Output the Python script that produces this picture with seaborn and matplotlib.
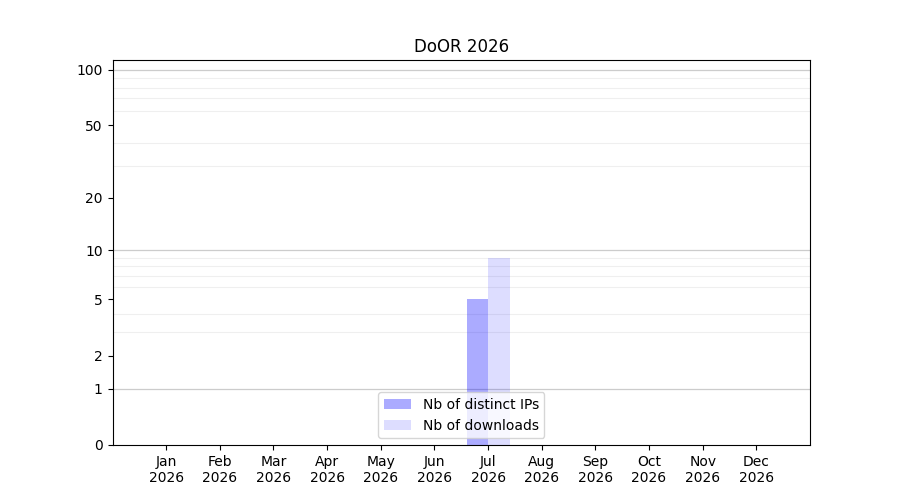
import numpy as np
import pandas as pd
import matplotlib
matplotlib.use("Agg")
import matplotlib.pyplot as plt
import seaborn as sns

# -------------------------------------
# Data
# -------------------------------------
months = ["Jan", "Feb", "Mar", "Apr", "May", "Jun",
          "Jul", "Aug", "Sep", "Oct", "Nov", "Dec"]
year = "2026"
distinct_ips = [0, 0, 0, 0, 0, 0, 5, 0, 0, 0, 0, 0]
downloads = [0, 0, 0, 0, 0, 0, 9, 0, 0, 0, 0, 0]

series_names = ["Nb of distinct IPs", "Nb of downloads"]
series_alphas = [0.33, 0.135]

y_ticks = [0, 1, 2, 5, 10, 20, 50, 100]
y_major_grid = [1, 10, 100]
y_minor_grid = [2, 3, 4, 5, 6, 7, 8, 9, 20, 30, 40, 50, 60, 70, 80, 90]

df = pd.DataFrame({
    "month": list(range(len(months))) * 2,
    "value": distinct_ips + downloads,
    "series": [series_names[0]] * len(months) + [series_names[1]] * len(months),
})


# -------------------------------------
# Plot
# -------------------------------------
fig, ax = plt.subplots(figsize=(9, 5), dpi=100)

ax.set_yscale(
    "function",
    functions=(lambda v: np.log10(np.clip(v, 0, None) + 1),
               lambda v: 10 ** v - 1)
)

sns.barplot(
    data=df,
    x="month",
    y="value",
    hue="series",
    palette=["blue", "blue"],
    width=0.8,
    saturation=1,
    legend=False,
    ax=ax,
)

# translucent bars, grid shows through
handles = []
for container, alpha, name in zip(ax.containers, series_alphas, series_names):
    for bar in container:
        bar.set_alpha(alpha)
        bar.set_linewidth(0)
    container.patches[0].set_label(name)
    handles.append(container.patches[0])

ax.set_axisbelow(True)
ax.set_yticks(y_ticks)
ax.set_yticklabels([str(t) for t in y_ticks])
ax.set_yticks(y_minor_grid, minor=True)
ax.tick_params(axis="y", which="minor", length=0)
ax.grid(which="minor", axis="y", color="#efefef", linewidth=0.8)
for level in y_major_grid:
    ax.axhline(level, color="#cccccc", linewidth=0.9, zorder=0)

ax.set_ylim(0, 113)
ax.set_xlim(-1, len(months))
ax.set_xticks(range(len(months)))
ax.set_xticklabels([m + "\n" + year for m in months])

ax.set_xlabel("")
ax.set_ylabel("")
ax.set_title("DoOR " + year)
ax.legend(handles=handles, labels=series_names, loc="lower center")

plt.savefig("out.png", dpi=100)
